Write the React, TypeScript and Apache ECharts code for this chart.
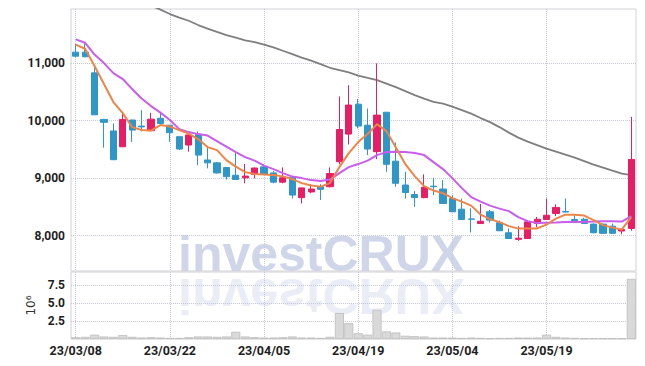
import React, { useEffect, useRef } from 'react';
import * as echarts from 'echarts';

const dates = [
  '23/03/08', '23/03/09', '23/03/10', '23/03/13', '23/03/14', '23/03/15', '23/03/16', '23/03/17', '23/03/20', '23/03/21',
  '23/03/22', '23/03/23', '23/03/24', '23/03/27', '23/03/28', '23/03/29', '23/03/30', '23/03/31', '23/04/03', '23/04/04',
  '23/04/05', '23/04/06', '23/04/07', '23/04/10', '23/04/11', '23/04/12', '23/04/13', '23/04/14', '23/04/17', '23/04/18',
  '23/04/19', '23/04/20', '23/04/21', '23/04/24', '23/04/25', '23/04/26', '23/04/27', '23/04/28', '23/05/02', '23/05/03',
  '23/05/04', '23/05/08', '23/05/09', '23/05/10', '23/05/11', '23/05/12', '23/05/15', '23/05/16', '23/05/17', '23/05/18',
  '23/05/19', '23/05/22', '23/05/23', '23/05/24', '23/05/25', '23/05/26', '23/05/30', '23/05/31', '23/06/01', '23/06/02',
];

const opens = [
  11190, 11190, 10830, 10020, 9820, 9545, 10010, 9905, 9825, 10040,
  9920, 9720, 9575, 9760, 9315, 9265, 9185, 9050, 9005, 9065,
  9195, 9090, 8930, 9010, 8660, 8760, 8850, 8850, 9285, 9765,
  10285, 9920, 9460, 10145, 9295, 8880, 8715, 8660, 8860, 8810,
  8645, 8460, 8290, 8210, 8415, 8225, 8050, 7935, 7950, 8210,
  8280, 8385, 8420, 8280, 8285, 8200, 8200, 8165, 8080, 8125,
];
const closes = [
  11120, 11110, 10100, 9970, 9320, 10020, 9835, 9890, 10025, 9950,
  9790, 9505, 9750, 9400, 9265, 9090, 9025, 8975, 9035, 9175,
  9070, 8930, 9005, 8705, 8830, 8810, 8805, 9080, 9845, 10270,
  9905, 9505, 10095, 9240, 8910, 8750, 8660, 8840, 8850, 8560,
  8415, 8280, 8285, 8250, 8270, 8085, 7950, 7955, 8240, 8285,
  8355, 8490, 8410, 8260, 8210, 8050, 8040, 8040, 8105, 9325,
];
const lows = [
  11100, 11100, 10100, 9530, 9320, 9540, 9630, 9810, 9820, 9950,
  9630, 9490, 9460, 9225, 9170, 9080, 8975, 8975, 8910, 8995,
  9065, 8910, 8910, 8645, 8560, 8735, 8620, 8840, 9240, 9585,
  9865, 9400, 9330, 9110, 8850, 8645, 8500, 8650, 8705, 8555,
  8410, 8280, 8055, 8205, 8225, 8080, 7945, 7910, 7950, 8145,
  8275, 8340, 8405, 8240, 8205, 8040, 8030, 8035, 8025, 8085,
];
const highs = [
  11330, 11340, 10930, 10030, 9950, 10150, 10015, 10180, 10135, 10135,
  9925, 9720, 9755, 9810, 9525, 9280, 9190, 9460, 9245, 9185,
  9240, 9125, 9185, 9020, 8835, 8895, 8895, 9185, 10420, 10615,
  10375, 10210, 10995, 10145, 9620, 9110, 8775, 9065, 9005, 8965,
  8700, 8645, 8475, 8550, 8445, 8260, 8125, 8165, 8250, 8325,
  8645, 8545, 8645, 8355, 8310, 8210, 8210, 8210, 8110, 10065,
];

const ma5 = [
  11322, 11249, 10948, 10635, 10322, 10130, 9887, 9835, 9826, 9922,
  9896, 9835, 9774, 9678, 9539, 9487, 9313, 9200, 9104, 9070,
  9061, 9052, 9030, 8983, 8913, 8870, 8852, 8913, 9191, 9435,
  9626, 9765, 9939, 9817, 9531, 9244, 9035, 8861, 8783, 8739,
  8652, 8591, 8522, 8365, 8287, 8235, 8165, 8122, 8122, 8125,
  8192, 8296, 8365, 8365, 8348, 8270, 8183, 8139, 8108, 8322,
];
const ma20 = [
  11412, 11353, 11148, 11000, 10826, 10722, 10548, 10383, 10252, 10139,
  10009, 9852, 9800, 9765, 9739, 9644, 9548, 9452, 9365, 9304,
  9217, 9157, 9087, 9026, 9000, 8965, 8948, 8974, 9087, 9191,
  9244, 9304, 9400, 9452, 9458, 9452, 9435, 9400, 9278, 9157,
  9000, 8826, 8670, 8591, 8522, 8470, 8426, 8322, 8252, 8221,
  8226, 8230, 8235, 8235, 8239, 8244, 8252, 8249, 8244, 8339,
];
const ma60 = [
  12600, 12520, 12440, 12360, 12290, 12210, 12140, 12070, 12000, 11930,
  11852, 11791, 11736, 11661, 11600, 11543, 11487, 11443, 11395, 11365,
  11322, 11273, 11214, 11157, 11096, 11043, 10983, 10918, 10878, 10838,
  10783, 10743, 10704, 10644, 10583, 10513, 10443, 10383, 10325, 10296,
  10244, 10183, 10122, 10044, 9974, 9887, 9791, 9704, 9635, 9574,
  9513, 9461, 9409, 9357, 9296, 9235, 9183, 9130, 9078, 9052,
];

// volume in millions of shares
const volumes = [
  0.25, 0.3, 0.6, 0.35, 0.3, 0.55, 0.3, 0.2, 0.25, 0.2,
  0.15, 0.15, 0.25, 0.35, 0.35, 0.3, 0.35, 1.0, 0.35, 0.25,
  0.2, 0.2, 0.25, 0.35, 0.2, 0.2, 0.15, 0.3, 3.6, 2.2,
  0.8, 0.6, 4.05, 1.05, 0.9, 0.45, 0.4, 0.35, 0.2, 0.2,
  0.2, 0.15, 0.2, 0.15, 0.1, 0.15, 0.15, 0.2, 0.2, 0.2,
  0.6, 0.3, 0.2, 0.15, 0.1, 0.1, 0.1, 0.1, 0.1, 8.35,
];

const priceTicks = [8000, 9000, 10000, 11000];
const volumeTicks = [2.5, 5, 7.5];

const UP = '#e61e66';
const DOWN = '#2f96c8';
const GRID_LINE = '#c4c8dc';
const BORDER = '#d2d2d6';
const LABEL_FONT = "Roboto, 'Liberation Sans', sans-serif";

export default function App() {
  const ref = useRef<HTMLDivElement>(null);

  useEffect(() => {
    if (!ref.current) return;
    const chart = echarts.init(ref.current, undefined, { renderer: 'svg' });
    const candles = dates.map((_, i) => [opens[i], closes[i], lows[i], highs[i]]);
    const dottedSplit = {
      show: true,
      interval: 9,
      alignWithLabel: true,
      lineStyle: { type: 'dotted', color: GRID_LINE, width: 1 },
    } as any;

    chart.setOption({
      animation: false,
      backgroundColor: '#ffffff',
      grid: [
        { left: 71, top: 9, width: 565, height: 262, show: true, borderColor: BORDER, borderWidth: 1 },
        { left: 71, top: 272, width: 565, height: 67, show: true, borderColor: BORDER, borderWidth: 1 },
      ],
      graphic: [
        {
          type: 'text',
          x: 178,
          y: 254,
          z: -10,
          silent: true,
          style: {
            text: 'investCRUX',
            font: 'bold 50px "Liberation Sans", Arial, sans-serif',
            fill: '#d0d6ea',
            verticalAlign: 'middle',
          },
        },
        {
          type: 'text',
          x: 178,
          y: 296,
          scaleY: -1,
          z: -10,
          silent: true,
          style: {
            text: 'investCRUX',
            font: 'bold 50px "Liberation Sans", Arial, sans-serif',
            fill: '#d0d6ea',
            opacity: 0.45,
            verticalAlign: 'middle',
          },
        },
      ],
      xAxis: [
        {
          type: 'category',
          gridIndex: 0,
          data: dates,
          boundaryGap: true,
          axisLine: { show: false },
          axisTick: { show: false, interval: 9, alignWithLabel: true },
          axisLabel: { show: false, interval: 9 },
          splitLine: dottedSplit,
        },
        {
          type: 'category',
          gridIndex: 1,
          data: dates,
          boundaryGap: true,
          axisLine: { show: false },
          axisTick: { show: false, interval: 9, alignWithLabel: true },
          axisLabel: {
            show: true,
            interval: 9,
            margin: 5,
            color: '#1e1e1e',
            fontFamily: LABEL_FONT,
            fontSize: 12.5,
            fontWeight: 'bold',
          },
          splitLine: dottedSplit,
        },
      ],
      yAxis: [
        {
          type: 'value',
          gridIndex: 0,
          min: 7385,
          max: 11940,
          axisLine: { show: false },
          axisTick: { show: false, customValues: priceTicks },
          axisLabel: {
            customValues: priceTicks,
            formatter: (v: number) => v.toLocaleString('en-US'),
            color: '#1e1e1e',
            fontFamily: LABEL_FONT,
            fontSize: 12,
            fontWeight: 'bold',
            margin: 6,
          },
          splitLine: { show: true, lineStyle: { type: 'dotted', color: GRID_LINE } },
        },
        {
          type: 'value',
          gridIndex: 1,
          min: 0,
          max: 9.3,
          name: '10⁶',
          nameLocation: 'middle',
          nameGap: 33,
          nameRotate: 90,
          nameTextStyle: { fontFamily: 'DejaVu Sans', fontSize: 12, color: '#333' },
          axisLine: { show: false },
          axisTick: { show: false, customValues: volumeTicks },
          axisLabel: {
            customValues: volumeTicks,
            formatter: (v: number) => v.toFixed(1),
            color: '#1e1e1e',
            fontFamily: LABEL_FONT,
            fontSize: 12,
            fontWeight: 'bold',
            margin: 6,
          },
          splitLine: { show: true, lineStyle: { type: 'dotted', color: GRID_LINE } },
        },
      ],
      series: [
        {
          type: 'line',
          name: 'MA60',
          xAxisIndex: 0,
          yAxisIndex: 0,
          data: ma60,
          symbol: 'none',
          clip: true,
          lineStyle: { color: '#7f7f7f', width: 1.8 },
          z: 3,
        },
        {
          type: 'candlestick',
          xAxisIndex: 0,
          yAxisIndex: 0,
          data: candles,
          barWidth: '70%',
          itemStyle: {
            color: UP,
            color0: DOWN,
            borderColor: UP,
            borderColor0: DOWN,
            borderWidth: 1,
          },
          z: 4,
        },
        {
          type: 'line',
          name: 'MA20',
          xAxisIndex: 0,
          yAxisIndex: 0,
          data: ma20,
          symbol: 'none',
          lineStyle: { color: '#c95ded', width: 2 },
          z: 5,
        },
        {
          type: 'line',
          name: 'MA5',
          xAxisIndex: 0,
          yAxisIndex: 0,
          data: ma5,
          symbol: 'none',
          lineStyle: { color: '#ef8447', width: 2 },
          z: 6,
        },
        {
          type: 'bar',
          xAxisIndex: 1,
          yAxisIndex: 1,
          data: volumes,
          barWidth: '96%',
          itemStyle: { color: '#d9d9d9', borderColor: '#bdbdbd', borderWidth: 0.8 },
        },
      ],
    });

    return () => chart.dispose();
  }, []);

  return (
    <div
      ref={ref}
      style={{ position: 'absolute', left: 0, top: 0, width: 645, height: 366 }}
    />
  );
}
